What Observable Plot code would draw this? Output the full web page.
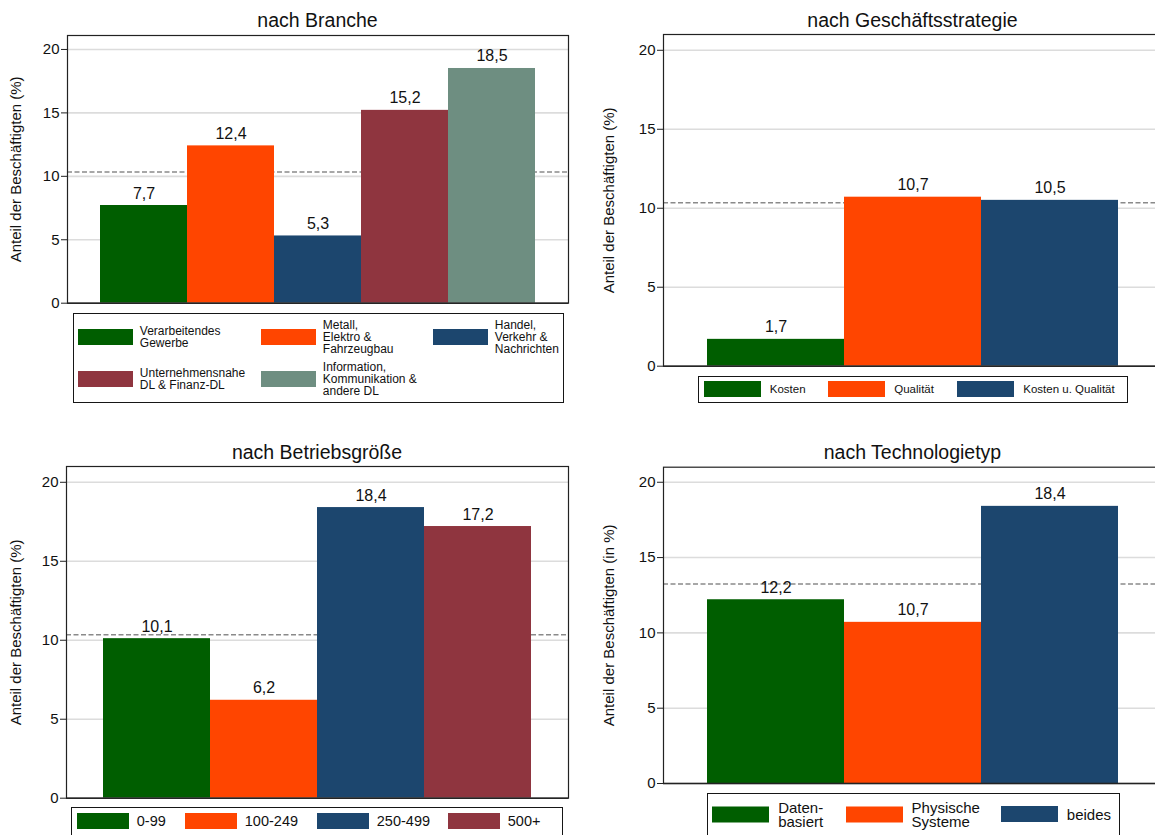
<!DOCTYPE html>
<html>
<head>
<meta charset="utf-8">
<script src="https://cdn.jsdelivr.net/npm/d3@7"></script>
<script src="https://cdn.jsdelivr.net/npm/@observablehq/plot@0.6"></script>
<style>
  html, body { margin: 0; padding: 0; background: #fff; overflow: hidden; }
  #page { position: relative; width: 1155px; height: 835px; overflow: hidden;
          font-family: "Liberation Sans", Arial, Helvetica, sans-serif; color: #111; background: #fff; }
  .title { position: absolute; text-align: center; font-size: 19.5px; line-height: 24px; white-space: nowrap; }
  .plot { position: absolute; }
  .legend { position: absolute; border: 1.2px solid #161616; box-sizing: border-box; background: #fff; }
  .item { position: absolute; display: flex; align-items: center; transform: translateY(-50%); }
  .sw { flex: none; }
  .lab { white-space: pre-line; color: #111; }
</style>
</head>
<body>
<div id="page"></div>
<script>
// ---- data -------------------------------------------------------------
const brancheCats = ["Verarbeitendes\nGewerbe", "Metall,\nElektro &\nFahrzeugbau", "Handel,\nVerkehr &\nNachrichten",
                     "Unternehmensnahe\nDL & Finanz-DL", "Information,\nKommunikation &\nandere DL"];
const brancheValues = [7.7, 12.4, 5.3, 15.2, 18.5];

const strategieCats = ["Kosten", "Qualität", "Kosten u. Qualität"];
const strategieValues = [1.7, 10.7, 10.5];

const groesseCats = ["0-99", "100-249", "250-499", "500+"];
const groesseValues = [10.1, 6.2, 18.4, 17.2];

const techCats = ["Daten-\nbasiert", "Physische\nSysteme", "beides"];
const techValues = [12.2, 10.7, 18.4];

// overall share (dashed reference line) per panel
const brancheAvg = 10.35;
const strategieAvg = 10.35;
const groesseAvg = 10.35;
const techAvg = 13.25;

const yTicks = [0, 5, 10, 15, 20];
const gridTicks = [5, 10, 15, 20];

const palette = ["#005e00", "#ff4500", "#1c466e", "#8f353f", "#6e8e81"];

// ---- helpers ----------------------------------------------------------
const FONT = '"Liberation Sans", Arial, Helvetica, sans-serif';
const deLocale = d3.formatLocale({decimal: ",", thousands: ".", grouping: [3], currency: ["", " €"]});
const fmt = deLocale.format(".1f");
const page = document.getElementById("page");

function panel(cfg) {
  const data = cfg.cats.map((c, i) => ({cat: c, value: cfg.values[i]}));
  const chart = Plot.plot({
    width: cfg.width, height: cfg.height,
    marginLeft: cfg.ml, marginRight: cfg.mr, marginTop: cfg.mt, marginBottom: cfg.mb,
    style: {background: "transparent", fontFamily: FONT, color: "#111", overflow: "visible"},
    x: {type: "band", domain: cfg.cats, padding: 0, insetLeft: cfg.inset, insetRight: cfg.inset, axis: null},
    y: {domain: [0, cfg.ymax]},
    color: {domain: cfg.cats, range: palette.slice(0, cfg.cats.length)},
    marks: [
      Plot.gridY({ticks: gridTicks, stroke: "#dcdcdc", strokeOpacity: 1, strokeWidth: 1.6}),
      Plot.ruleY([cfg.avg], {stroke: "#8a8a8a", strokeWidth: 1.5, strokeDasharray: "5,2.5"}),
      Plot.barY(data, {x: "cat", y: "value", fill: "cat"}),
      Plot.text(data, {x: "cat", y: "value", text: d => fmt(d.value), lineAnchor: "bottom",
                       dy: -7, fontSize: 16, fill: "#111"}),
      Plot.axisY({ticks: yTicks, tickSize: 6, tickPadding: 2, fontSize: 15, label: null,
                  stroke: "#222", fill: "#111"}),
      Plot.ruleY([0], {stroke: "#333", strokeWidth: 1.6}),
      Plot.frame({stroke: "#222", strokeWidth: 1.2}),
      Plot.text([cfg.ylabel], {text: d => d, frameAnchor: "left", textAnchor: "middle",
                               dx: -cfg.labelOffset, rotate: -90, fontSize: 15, fill: "#111"})
    ]
  });
  chart.classList.add("plot");
  chart.style.left = cfg.left + "px";
  chart.style.top = cfg.top + "px";
  page.appendChild(chart);

  const t = document.createElement("div");
  t.className = "title";
  t.textContent = cfg.title;
  t.style.left = (cfg.left + cfg.ml) + "px";
  t.style.width = (cfg.width - cfg.ml - cfg.mr) + "px";
  t.style.top = cfg.titleTop + "px";
  page.appendChild(t);

  const L = cfg.legend;
  const box = document.createElement("div");
  box.className = "legend";
  Object.assign(box.style, {left: L.left + "px", top: L.top + "px", width: L.width + "px", height: L.height + "px"});
  cfg.cats.forEach((c, i) => {
    const it = document.createElement("div");
    it.className = "item";
    it.style.left = (L.xs[i] - L.left - 1.2) + "px";
    it.style.top = (L.ys[i] - L.top - 1.2) + "px";
    const sw = document.createElement("div");
    sw.className = "sw";
    Object.assign(sw.style, {width: L.sw + "px", height: L.sh + "px", background: palette[i]});
    const lab = document.createElement("div");
    lab.className = "lab";
    lab.textContent = c;
    Object.assign(lab.style, {marginLeft: L.gap + "px", fontSize: L.fontSize + "px", lineHeight: L.lineHeight + "px"});
    it.appendChild(sw);
    it.appendChild(lab);
    box.appendChild(it);
  });
  page.appendChild(box);
}

// ---- panels -----------------------------------------------------------
panel({
  title: "nach Branche", titleTop: 8,
  cats: brancheCats, values: brancheValues, avg: brancheAvg,
  ylabel: "Anteil der Beschäftigten (%)", labelOffset: 51.5,
  left: 0, top: 0, width: 570, height: 310, ml: 67, mr: 2, mt: 35, mb: 7.3, inset: 32, ymax: 21.1,
  legend: {left: 72.5, top: 313, width: 491, height: 90,
           xs: [78, 261, 433, 78, 261], ys: [337.5, 337.5, 337.5, 379.5, 379.5],
           sw: 55, sh: 16, gap: 7, fontSize: 12, lineHeight: 12}
});

panel({
  title: "nach Geschäftsstrategie", titleTop: 8,
  cats: strategieCats, values: strategieValues, avg: strategieAvg,
  ylabel: "Anteil der Beschäftigten (%)", labelOffset: 54,
  left: 580, top: 0, width: 584, height: 370, ml: 83, mr: 2, mt: 34, mb: 4.3, inset: 43, ymax: 21,
  legend: {left: 697.6, top: 375.7, width: 430.4, height: 27.8,
           xs: [704, 828.5, 957.5], ys: [389.3, 389.3, 389.3],
           sw: 57, sh: 16, gap: 9, fontSize: 11.5, lineHeight: 13}
});

panel({
  title: "nach Betriebsgröße", titleTop: 440,
  cats: groesseCats, values: groesseValues, avg: groesseAvg,
  ylabel: "Anteil der Beschäftigten (%)", labelOffset: 50.5,
  left: 0, top: 430, width: 570, height: 372, ml: 66, mr: 2, mt: 36, mb: 4.3, inset: 36, ymax: 21,
  legend: {left: 71, top: 807, width: 492, height: 36,
           xs: [77, 185, 317, 448], ys: [821.3, 821.3, 821.3, 821.3],
           sw: 52, sh: 16, gap: 8, fontSize: 14.5, lineHeight: 16}
});

panel({
  title: "nach Technologietyp", titleTop: 440,
  cats: techCats, values: techValues, avg: techAvg,
  ylabel: "Anteil der Beschäftigten (in %)", labelOffset: 54,
  left: 580, top: 430, width: 584, height: 358, ml: 83, mr: 2, mt: 36.7, mb: 5, inset: 43, ymax: 21,
  legend: {left: 707, top: 792.7, width: 413, height: 50,
           xs: [712.4, 845.8, 1001], ys: [814.5, 814.5, 814.5],
           sw: 57, sh: 16, gap: 9, fontSize: 15, lineHeight: 13.5}
});
</script>
</body>
</html>
